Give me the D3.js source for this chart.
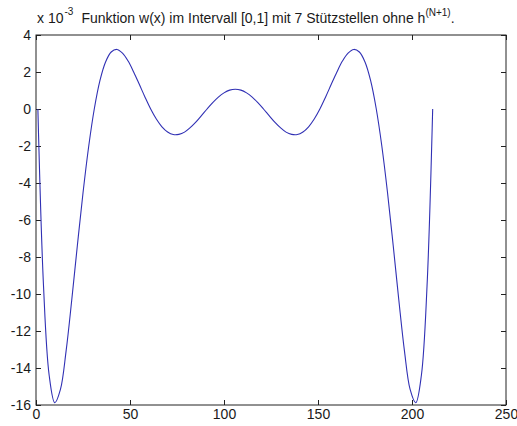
<!DOCTYPE html>
<html>
<head>
<meta charset="utf-8">
<script src="https://cdn.jsdelivr.net/npm/d3@7"></script>
<style>
  body { margin: 0; background: #ffffff; }
  text { font-family: "Liberation Sans", Arial, Helvetica, sans-serif; fill: #1a1a1a; }
</style>
</head>
<body>
<svg id="chart" width="517" height="426"></svg>
<script>
// Sample index along the curve (1 … 211)
const sampleIndex = [1,4,7,10,13,16,19,22,25,28,31,34,37,40,43,46,49,52,55,58,61,64,67,70,73,76,79,82,85,88,91,94,97,100,103,106,
  109,112,115,118,121,124,127,130,133,136,139,142,145,148,151,154,157,160,163,166,169,172,175,178,181,184,187,190,193,196,199,202,205,208,211];

// w(x) in units of 1e-3
const wValues = [0,-9.57,-14.39,-15.88,-15.16,-13.09,-10.34,-7.38,-4.54,-2.04,0,1.53,2.54,3.08,3.22,3.02,2.59,1.99,1.32,0.64,
  0,-0.54,-0.96,-1.24,-1.38,-1.37,-1.25,-1.01,-0.71,-0.36,0,0.34,0.64,0.87,1.02,1.07,
  1.02,0.87,0.64,0.34,0,-0.36,-0.71,-1.01,-1.25,-1.37,-1.38,-1.24,-0.96,-0.54,0,0.64,1.32,1.99,2.59,3.02,
  3.22,3.08,2.54,1.53,0,-2.04,-4.54,-7.38,-10.34,-13.09,-15.16,-15.88,-14.39,-9.57,0];

const xTicks = [0, 50, 100, 150, 200, 250];
const yTicks = [4, 2, 0, -2, -4, -6, -8, -10, -12, -14, -16];

const titleMain = "Funktion w(x) im Intervall [0,1] mit 7 Stützstellen ohne h";
const titleSup = "(N+1)";
const scaleBase = "x 10";
const scaleExp = "-3";

const svg = d3.select("#chart");
const plotLeft = 36, plotRight = 506, plotTop = 35, plotBottom = 405;

const x = d3.scaleLinear().domain([0, 250]).range([plotLeft, plotRight]);
const y = d3.scaleLinear().domain([-16, 4]).range([plotBottom, plotTop]);

const axisColor = "#222";
const tickFont = 14;
const titleFont = 14;

function styleAxis(g) {
  g.select(".domain").remove();
  g.selectAll(".tick line").attr("stroke", axisColor);
  g.selectAll(".tick text").attr("font-size", tickFont).attr("fill", "#1a1a1a")
    .style("font-family", '"Liberation Sans", Arial, sans-serif');
}

// Bottom axis with labels, ticks pointing inward
svg.append("g").attr("transform", `translate(0,${plotBottom})`)
  .call(d3.axisBottom(x).tickValues(xTicks).tickFormat(d3.format("d")).tickSizeInner(-5).tickSizeOuter(0).tickPadding(4))
  .call(styleAxis);

// Top axis: ticks only
svg.append("g").attr("transform", `translate(0,${plotTop})`)
  .call(d3.axisTop(x).tickValues(xTicks).tickFormat("").tickSizeInner(-5).tickSizeOuter(0))
  .call(styleAxis);

// Left axis with labels
svg.append("g").attr("transform", `translate(${plotLeft},0)`)
  .call(d3.axisLeft(y).tickValues(yTicks).tickFormat(d => String(d)).tickSizeInner(-5).tickSizeOuter(0).tickPadding(5))
  .call(styleAxis);

// Right axis: ticks only
svg.append("g").attr("transform", `translate(${plotRight},0)`)
  .call(d3.axisRight(y).tickValues(yTicks).tickFormat("").tickSizeInner(-5).tickSizeOuter(0))
  .call(styleAxis);

// Axes box
svg.append("rect")
  .attr("x", plotLeft).attr("y", plotTop)
  .attr("width", plotRight - plotLeft).attr("height", plotBottom - plotTop)
  .attr("fill", "none").attr("stroke", axisColor).attr("stroke-width", 1);

// Curve
const pts = sampleIndex.map((d, i) => [d, wValues[i]]);
const line = d3.line()
  .x(d => x(d[0]))
  .y(d => y(d[1]))
  .curve(d3.curveCatmullRom.alpha(0.5));

svg.append("path")
  .datum(pts)
  .attr("d", line)
  .attr("fill", "none")
  .attr("stroke", "#3030b4")
  .attr("stroke-width", 1.1);

// Exponent label above the y axis
const expo = svg.append("text").attr("x", 37).attr("y", 23).attr("font-size", titleFont);
expo.append("tspan").text(scaleBase);
expo.append("tspan").attr("font-size", 10).attr("dy", -8).attr("dx", 1).text(scaleExp);

// Title
const title = svg.append("text").attr("x", 268).attr("y", 23)
  .attr("text-anchor", "middle").attr("font-size", titleFont);
title.append("tspan").text(titleMain);
title.append("tspan").attr("font-size", 10).attr("dy", -7).text(titleSup);
title.append("tspan").attr("dy", 7).text(".");
</script>
</body>
</html>
